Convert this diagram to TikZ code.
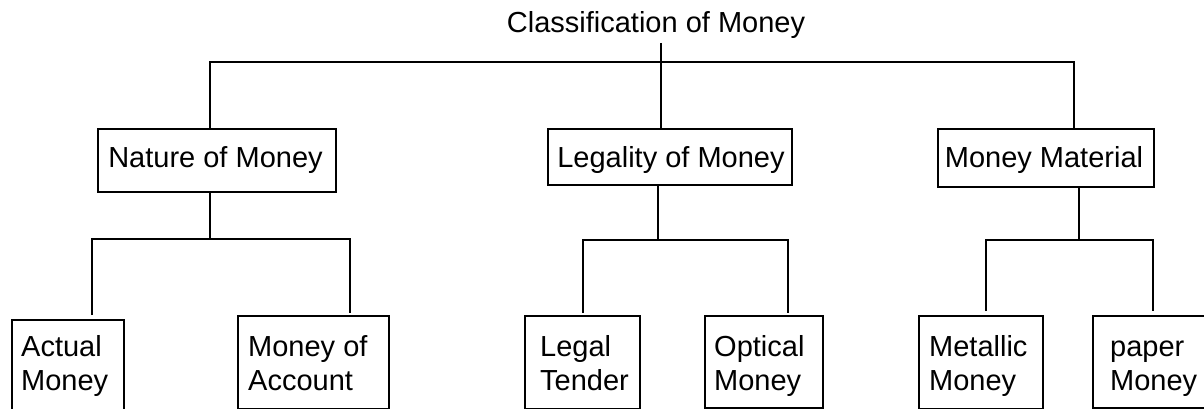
\documentclass[tikz,border=0pt]{standalone}
\usepackage{fontspec}
\setmainfont{Liberation Sans}
\usetikzlibrary{calc}
\begin{document}
\begin{tikzpicture}[x=1pt,y=-1pt,
  every node/.style={font=\fontsize{29}{33.5}\selectfont, inner sep=0pt},
  box/.style={draw, line width=2pt, anchor=north west},
  link/.style={line width=2pt},
  txt/.style={align=left, anchor=base west}]
\useasboundingbox (0,0) rectangle (1204,409);

% title
\node[anchor=base] (title) at (656,33) {Classification of Money};

% second level boxes
\node[box, minimum width=238pt, minimum height=63pt] (nat) at (97,128) {};
\node[box, minimum width=244pt, minimum height=56pt] (lgl) at (547,128) {};
\node[box, minimum width=216pt, minimum height=58pt] (mat) at (937,128) {};
\node[anchor=base] (natt) at (215.5,167) {Nature of Money};
\node[anchor=base] (lglt) at (671,167) {Legality of Money};
\node[anchor=base] (matt) at (1044,167) {Money Material};

% third level boxes (the base anchor sits on the last line)
\node[box, minimum width=112pt, minimum height=111pt] (act) at (11,319) {};
\node[box, minimum width=151pt, minimum height=93pt] (moa) at (237,315) {};
\node[box, minimum width=115pt, minimum height=93pt] (lgt) at (524,315) {};
\node[box, minimum width=118pt, minimum height=92pt] (opt) at (704,315) {};
\node[box, minimum width=124pt, minimum height=93pt] (met) at (918,315) {};
\node[box, minimum width=123pt, minimum height=92pt] (pap) at (1092,315) {};
\node[txt] (actt) at (21,390) {Actual\\Money};
\node[txt] (moat) at (248,390) {Money of\\Account};
\node[txt] (lgtt) at (540,390) {Legal\\Tender};
\node[txt] (optt) at (714,390) {Optical\\Money};
\node[txt] (mett) at (929,390) {Metallic\\Money};
\node[txt] (papt) at (1110,390) {paper\\Money};

% top level branching
\coordinate (t0) at (661,43);
\coordinate (hl) at (210,62);
\coordinate (hr) at (1074,62);
\draw[link] (t0) -- (t0 |- lgl.north);
\draw[link] (hl |- nat.north) -- (hl) -- (hr) -- (hr |- mat.north);

% nature of money branches
\coordinate (n0) at (210,239);
\coordinate (nl) at (92,239);
\coordinate (nr) at (350,239);
\draw[link] (n0 |- nat.south) -- (n0);
\draw[link] ($(nl |- act.north)+(0,-4)$) -- (nl) -- (nr) -- ($(nr |- moa.north)+(0,-2)$);

% legality of money branches
\coordinate (l0) at (658,240);
\coordinate (ll) at (583,240);
\coordinate (lr) at (788,240);
\draw[link] (l0 |- lgl.south) -- (l0);
\draw[link] ($(ll |- lgt.north)+(0,-2)$) -- (ll) -- (lr) -- ($(lr |- opt.north)+(0,-2)$);

% money material branches
\coordinate (m0) at (1079,240);
\coordinate (ml) at (986,240);
\coordinate (mr) at (1153,240);
\draw[link] (m0 |- mat.south) -- (m0);
\draw[link] ($(ml |- met.north)+(0,-4)$) -- (ml) -- (mr) -- ($(mr |- pap.north)+(0,-4)$);
\end{tikzpicture}
\end{document}
